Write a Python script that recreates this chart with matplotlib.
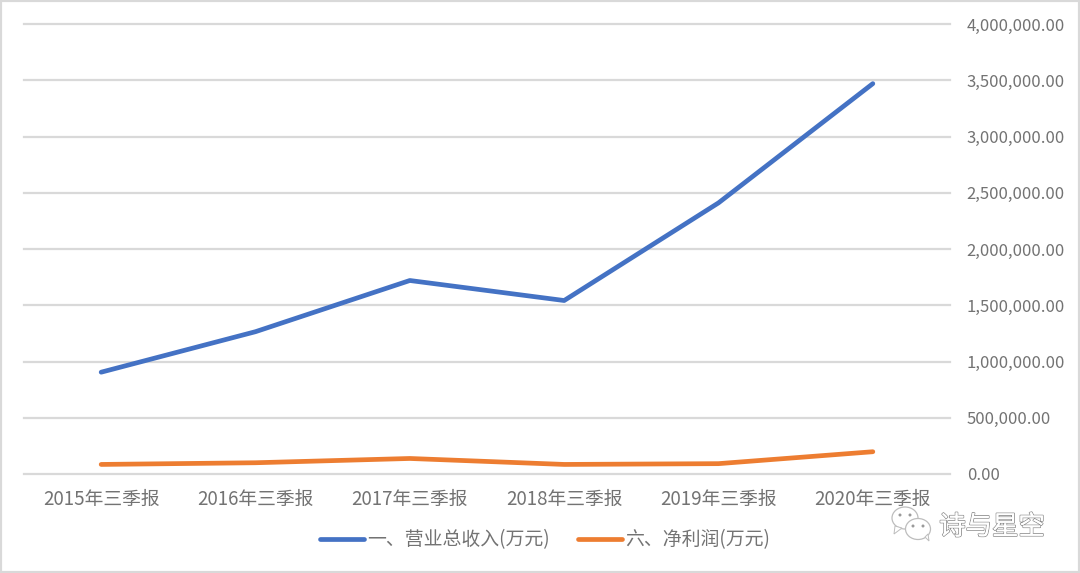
import matplotlib
matplotlib.use('Agg')
import matplotlib.pyplot as plt
import matplotlib.patheffects as pe
from matplotlib.patches import Ellipse, Rectangle, Polygon
from matplotlib.ticker import FuncFormatter

plt.rcParams['font.family'] = ['Noto Sans CJK SC', 'DejaVu Sans']

quarters = ['2015年三季报', '2016年三季报', '2017年三季报', '2018年三季报', '2019年三季报', '2020年三季报']
revenue = [905000, 1265000, 1720000, 1542000, 2410000, 3470000]
profit = [85000, 100000, 138000, 85000, 92000, 198000]
names = ['一、营业总收入(万元)', '六、净利润(万元)']
y_ticks = [0, 500000, 1000000, 1500000, 2000000, 2500000, 3000000, 3500000, 4000000]

fig = plt.figure(figsize=(10.8, 5.73), dpi=100)
# axes box in pixels: x 24-950, y 24-474 from the top
ax = fig.add_axes([24 / 1080, (573 - 474) / 573, 926 / 1080, 450 / 573])

ax.plot(quarters, revenue, color='#4472C4', lw=3.4, solid_capstyle='round', label=names[0])
ax.plot(quarters, profit, color='#ED7D31', lw=3.4, solid_capstyle='round', label=names[1])

ax.set_xlim(-0.5, 5.5)
ax.set_ylim(0, 4000000)
ax.set_yticks(y_ticks)
ax.yaxis.set_major_formatter(FuncFormatter(lambda v, p: f'{v:,.2f}'))
ax.yaxis.tick_right()
ax.grid(axis='y', color='#D9D9D9', lw=1.6)
for g in ax.get_ygridlines():
    g.set_clip_on(False)
ax.set_axisbelow(True)
for s in ax.spines.values():
    s.set_visible(False)
ax.tick_params(axis='x', length=0, labelcolor='#737373', labelsize=13.5, pad=11)
ax.tick_params(axis='y', length=0, labelcolor='#737373', labelsize=12, pad=12)

ax.legend(loc='center', bbox_to_anchor=(545 / 1080, (573 - 540) / 573), bbox_transform=fig.transFigure,
          ncol=2, frameon=False, fontsize=13.6, labelcolor='#737373', handlelength=2.35,
          handletextpad=0.15, columnspacing=1.5, borderpad=0)

# outer frame of the screenshot
fig.add_artist(Rectangle((0, 0), 1, 1, transform=fig.transFigure, fill=False, ec='#D9D9D9', lw=3))

# watermark
outline = [pe.withStroke(linewidth=1.2, foreground='#8C8C8C'), pe.Normal()]
fig.text(992 / 1080, (573 - 527) / 573, '诗与星空', color='white', fontsize=19, ha='center', va='center',
         path_effects=outline)


def px(x, y):
    return x / 1080, (573 - y) / 573


for cx, cy, w, h, tail in [(905, 518, 26, 22, [(895, 526), (894, 534), (902, 528)]),
                           (918, 529, 25, 21, [(925, 537), (929, 541), (928, 534)])]:
    fig.add_artist(Ellipse(px(cx, cy), w / 1080, h / 573, transform=fig.transFigure,
                           fc='white', ec='#BDBDBD', lw=0.9))
    fig.add_artist(Polygon([px(*p) for p in tail], transform=fig.transFigure, fc='white', ec='#BDBDBD', lw=0.7))
    for ex in (cx - 5, cx + 5):
        fig.add_artist(Ellipse(px(ex, cy - 3), 3 / 1080, 3 / 573, transform=fig.transFigure, fc='#9A9A9A', ec='none'))

fig.savefig('out.png', dpi=100)
